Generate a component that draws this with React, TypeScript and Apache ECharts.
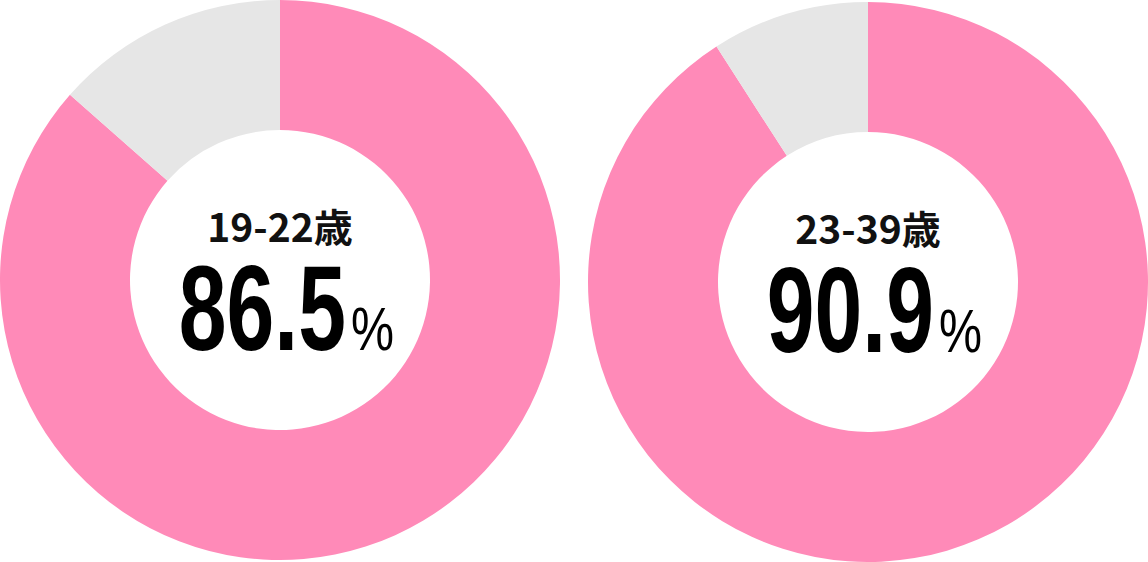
import React, { useEffect, useRef } from 'react';
import * as echarts from 'echarts';

// age groups and their rates (%)
const groups: string[] = ['19-22歳', '23-39歳'];
const rates: number[] = [86.5, 90.9];

const centers: [number, number][] = [
    [280, 280],
    [868, 282],
];

const PINK = '#FF8AB8';
const GREY = '#E6E6E6';

const App: React.FC = () => {
    const chartRef = useRef<HTMLDivElement>(null);

    useEffect(() => {
        document.body.style.margin = '0';
        if (!chartRef.current) return;
        const chart = echarts.init(chartRef.current, undefined, { renderer: 'svg' });

        const series = rates.map((rate, i) => ({
            type: 'pie',
            center: centers[i],
            radius: [150, 280],
            startAngle: 90,
            clockwise: true,
            silent: true,
            label: { show: false },
            labelLine: { show: false },
            emphasis: { disabled: true },
            data: [
                { name: groups[i], value: rate, itemStyle: { color: PINK } },
                { name: 'その他', value: +(100 - rate).toFixed(1), itemStyle: { color: GREY } },
            ],
        }));

        // centre texts
        const texts: any[] = [];
        groups.forEach((g, i) => {
            const [cx, cy] = centers[i];
            texts.push({
                type: 'text',
                x: cx,
                y: cy - 55,
                style: {
                    text: g,
                    fontFamily: 'Noto Sans CJK JP',
                    fontWeight: 'bold',
                    fontSize: 39,
                    fill: '#111',
                    textAlign: 'center',
                    textVerticalAlign: 'middle',
                },
            });
            texts.push({
                type: 'text',
                x: cx + 66,
                y: cy + 28,
                scaleX: 0.71,
                style: {
                    text: rates[i].toFixed(1),
                    fontFamily: 'Liberation Sans',
                    fontWeight: 'bold',
                    fontSize: 121,
                    fill: '#000',
                    textAlign: 'right',
                    textVerticalAlign: 'middle',
                },
            });
            texts.push({
                type: 'text',
                x: cx + 71,
                y: cy + 49,
                scaleX: 0.78,
                style: {
                    text: '%',
                    fontFamily: 'Liberation Sans',
                    fontWeight: 'normal',
                    fontSize: 62,
                    fill: '#000',
                    textAlign: 'left',
                    textVerticalAlign: 'middle',
                },
            });
        });

        chart.setOption({
            animation: false,
            backgroundColor: '#fff',
            series,
            graphic: texts,
        });

        return () => {
            chart.dispose();
        };
    }, []);

    return <div ref={chartRef} style={{ width: '1148px', height: '562px' }} />;
};

export default App;
